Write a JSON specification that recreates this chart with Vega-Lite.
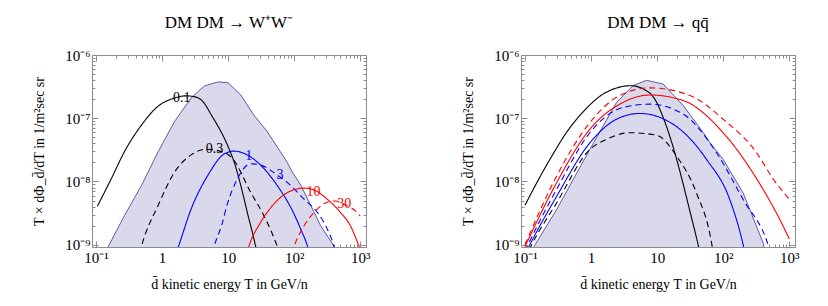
{
  "$schema": "https://vega.github.io/schema/vega-lite/v6.json",
  "padding": {"left": 32, "top": 13, "right": 5, "bottom": 5},
  "spacing": 90,
  "config": {
    "font": "Liberation Serif",
    "view": {"stroke": "#8c8c8c", "strokeWidth": 1},
    "axis": {"grid": false, "domain": false, "tickColor": "#8c8c8c", "labelFont": "Liberation Serif", "labelFontSize": 15, "labelColor": "#000000", "titleFont": "Liberation Serif", "titleFontSize": 14, "titleFontWeight": "normal", "titleColor": "#000000", "labelFlush": false, "labelOverlap": false},
    "title": {"font": "Liberation Serif", "fontSize": 17, "fontWeight": "normal", "color": "#000000"}
  },
  "datasets": {
    "bandL": [
      {"T": 0.135, "F": 7.24e-10}, {"T": 0.155, "F": 9.55e-10}, {"T": 0.269, "F": 2.88e-9}, {"T": 0.49, "F": 8.71e-9},
      {"T": 0.871, "F": 2.95e-8}, {"T": 1.549, "F": 8.91e-8}, {"T": 2.754, "F": 2.09e-7}, {"T": 4.365, "F": 3.24e-7},
      {"T": 7.08, "F": 3.76e-7}, {"T": 10, "F": 3.63e-7}, {"T": 15.5, "F": 2.34e-7}, {"T": 24.5, "F": 1.12e-7},
      {"T": 38.9, "F": 6.17e-8}, {"T": 61.7, "F": 2.95e-8}, {"T": 77.6, "F": 2.04e-8}, {"T": 93.3, "F": 1.41e-8},
      {"T": 126, "F": 8.71e-9}, {"T": 178, "F": 4.17e-9}, {"T": 251, "F": 2.0e-9}, {"T": 398, "F": 9.55e-10}, {"T": 457, "F": 7.24e-10}
    ],
    "bandR": [
      {"T": 0.12, "F": 7.24e-10}, {"T": 0.14, "F": 9.77e-10}, {"T": 0.299, "F": 3.55e-9}, {"T": 0.957, "F": 3.21e-8},
      {"T": 2.43, "F": 1.78e-7}, {"T": 4.34, "F": 3.29e-7}, {"T": 6.92, "F": 3.98e-7}, {"T": 12.3, "F": 3.48e-7},
      {"T": 24.8, "F": 1.585e-7}, {"T": 49.8, "F": 5.92e-8}, {"T": 63.1, "F": 4.09e-8}, {"T": 100, "F": 2.22e-8},
      {"T": 201, "F": 6.53e-9}, {"T": 404, "F": 1.05e-9}, {"T": 437, "F": 7.24e-10}
    ],
    "linesL": [
      {"s": "0.1", "T": 0.105, "F": 4.07e-9}, {"s": "0.1", "T": 0.17, "F": 1.1e-8}, {"s": "0.1", "T": 0.269, "F": 2.95e-8},
      {"s": "0.1", "T": 0.49, "F": 7.85e-8}, {"s": "0.1", "T": 0.871, "F": 1.55e-7}, {"s": "0.1", "T": 1.549, "F": 2.09e-7},
      {"s": "0.1", "T": 2.29, "F": 2.26e-7}, {"s": "0.1", "T": 3.09, "F": 2.19e-7}, {"s": "0.1", "T": 4.1, "F": 1.86e-7},
      {"s": "0.1", "T": 5.56, "F": 1.13e-7}, {"s": "0.1", "T": 10, "F": 3.55e-8}, {"s": "0.1", "T": 12.3, "F": 2.04e-8},
      {"s": "0.1", "T": 15.5, "F": 8.71e-9}, {"s": "0.1", "T": 19.5, "F": 3.24e-9}, {"s": "0.1", "T": 26, "F": 9.55e-10},
      {"s": "0.1", "T": 27.5, "F": 7.24e-10},
      {"s": "0.3", "T": 0.457, "F": 7.24e-10}, {"s": "0.3", "T": 0.49, "F": 9.55e-10}, {"s": "0.3", "T": 0.871, "F": 4.17e-9},
      {"s": "0.3", "T": 1.549, "F": 1.41e-8}, {"s": "0.3", "T": 2.754, "F": 2.63e-8}, {"s": "0.3", "T": 4.62, "F": 3.24e-8},
      {"s": "0.3", "T": 7.5, "F": 3.02e-8}, {"s": "0.3", "T": 11.7, "F": 2.3e-8}, {"s": "0.3", "T": 21.9, "F": 6.76e-9},
      {"s": "0.3", "T": 34.7, "F": 2.88e-9}, {"s": "0.3", "T": 55, "F": 9.55e-10}, {"s": "0.3", "T": 60.3, "F": 7.24e-10},
      {"s": "1", "T": 1.62, "F": 7.24e-10}, {"s": "1", "T": 1.78, "F": 9.55e-10}, {"s": "1", "T": 2.754, "F": 3.67e-9},
      {"s": "1", "T": 4.95, "F": 1.26e-8}, {"s": "1", "T": 8.83, "F": 2.75e-8}, {"s": "1", "T": 12.3, "F": 3.02e-8},
      {"s": "1", "T": 19.5, "F": 2.63e-8}, {"s": "1", "T": 30.9, "F": 1.82e-8}, {"s": "1", "T": 55, "F": 8.71e-9},
      {"s": "1", "T": 100, "F": 3.02e-9}, {"s": "1", "T": 126, "F": 1.74e-9}, {"s": "1", "T": 158, "F": 9.55e-10},
      {"s": "1", "T": 170, "F": 7.24e-10},
      {"s": "3", "T": 5.75, "F": 7.24e-10}, {"s": "3", "T": 6.17, "F": 9.55e-10}, {"s": "3", "T": 7.94, "F": 2.0e-9},
      {"s": "3", "T": 9.77, "F": 4.47e-9}, {"s": "3", "T": 13.8, "F": 1.1e-8}, {"s": "3", "T": 21.9, "F": 1.905e-8},
      {"s": "3", "T": 30.9, "F": 1.82e-8}, {"s": "3", "T": 55.6, "F": 1.26e-8}, {"s": "3", "T": 77.6, "F": 9.77e-9},
      {"s": "3", "T": 141, "F": 5.25e-9}, {"s": "3", "T": 224, "F": 3.24e-9}, {"s": "3", "T": 316, "F": 1.78e-9},
      {"s": "3", "T": 398, "F": 9.55e-10}, {"s": "3", "T": 427, "F": 7.24e-10},
      {"s": "10", "T": 19.1, "F": 7.24e-10}, {"s": "10", "T": 20.7, "F": 9.55e-10}, {"s": "10", "T": 30.9, "F": 2.24e-9},
      {"s": "10", "T": 49, "F": 4.37e-9}, {"s": "10", "T": 77.6, "F": 6.6e-9}, {"s": "10", "T": 141, "F": 7.85e-9},
      {"s": "10", "T": 195, "F": 7.4e-9}, {"s": "10", "T": 316, "F": 5.25e-9}, {"s": "10", "T": 501, "F": 3.24e-9},
      {"s": "10", "T": 708, "F": 2.0e-9}, {"s": "10", "T": 955, "F": 9.55e-10}, {"s": "10", "T": 1000, "F": 8.5e-10},
      {"s": "30", "T": 91, "F": 7.24e-10}, {"s": "30", "T": 100, "F": 9.55e-10}, {"s": "30", "T": 141, "F": 2.0e-9},
      {"s": "30", "T": 200, "F": 3.24e-9}, {"s": "30", "T": 316, "F": 4.68e-9}, {"s": "30", "T": 417, "F": 4.9e-9},
      {"s": "30", "T": 562, "F": 4.37e-9}, {"s": "30", "T": 891, "F": 3.24e-9}, {"s": "30", "T": 1000, "F": 2.82e-9}
    ],
    "labelsL": [
      {"s": "0.1", "label": "0.1", "T": 1.99, "F": 2.09e-7},
      {"s": "0.3", "label": "0.3", "T": 6.24, "F": 3.25e-8},
      {"s": "1", "label": "1", "T": 20.5, "F": 2.54e-8},
      {"s": "3", "label": "3", "T": 60.8, "F": 1.26e-8},
      {"s": "10", "label": "10", "T": 195, "F": 6.8e-9},
      {"s": "30", "label": "30", "T": 571, "F": 4.4e-9}
    ],
    "linesR": [
      {"s": "0.1", "T": 0.1, "F": 4.21e-9}, {"s": "0.1", "T": 0.156, "F": 1.02e-8}, {"s": "0.1", "T": 0.248, "F": 2.4e-8},
      {"s": "0.1", "T": 0.444, "F": 6.37e-8}, {"s": "0.1", "T": 0.794, "F": 1.33e-7}, {"s": "0.1", "T": 1.42, "F": 2.3e-7},
      {"s": "0.1", "T": 2.54, "F": 3.05e-7}, {"s": "0.1", "T": 3.98, "F": 3.27e-7}, {"s": "0.1", "T": 6.44, "F": 2.84e-7},
      {"s": "0.1", "T": 9.12, "F": 2.04e-7}, {"s": "0.1", "T": 13.1, "F": 8.71e-8}, {"s": "0.1", "T": 17.5, "F": 3.47e-8},
      {"s": "0.1", "T": 23.4, "F": 1.148e-8}, {"s": "0.1", "T": 31.3, "F": 3.39e-9}, {"s": "0.1", "T": 41.7, "F": 1.0e-9},
      {"s": "0.1", "T": 44.7, "F": 7.24e-10},
      {"s": "0.3", "T": 0.1, "F": 6.0e-10}, {"s": "0.3", "T": 0.125, "F": 9.77e-10}, {"s": "0.3", "T": 0.299, "F": 4.52e-9},
      {"s": "0.3", "T": 0.957, "F": 3.2e-8}, {"s": "0.3", "T": 1.71, "F": 4.62e-8}, {"s": "0.3", "T": 3.86, "F": 5.9e-8},
      {"s": "0.3", "T": 9.8, "F": 5.4e-8}, {"s": "0.3", "T": 19.7, "F": 2.51e-8}, {"s": "0.3", "T": 39.5, "F": 6.53e-9},
      {"s": "0.3", "T": 66.8, "F": 1.05e-9}, {"s": "0.3", "T": 70.8, "F": 7.24e-10},
      {"s": "1", "T": 0.1, "F": 7.08e-10}, {"s": "1", "T": 0.117, "F": 9.77e-10}, {"s": "1", "T": 0.299, "F": 5.75e-9},
      {"s": "1", "T": 0.957, "F": 4.07e-8}, {"s": "1", "T": 2.43, "F": 9.64e-8}, {"s": "1", "T": 5.47, "F": 1.19e-7},
      {"s": "1", "T": 17.5, "F": 8.02e-8}, {"s": "1", "T": 56.1, "F": 2.22e-8}, {"s": "1", "T": 126, "F": 5.13e-9},
      {"s": "1", "T": 201, "F": 9.77e-10}, {"s": "1", "T": 214, "F": 7.24e-10},
      {"s": "3", "T": 0.1, "F": 7.94e-10}, {"s": "3", "T": 0.111, "F": 1.0e-9}, {"s": "3", "T": 0.299, "F": 7.41e-9},
      {"s": "3", "T": 0.957, "F": 5.89e-8}, {"s": "3", "T": 3.05, "F": 1.48e-7}, {"s": "3", "T": 7.76, "F": 1.67e-7},
      {"s": "3", "T": 24.8, "F": 1.16e-7}, {"s": "3", "T": 79.4, "F": 2.84e-8}, {"s": "3", "T": 201, "F": 5.13e-9},
      {"s": "3", "T": 481, "F": 9.77e-10}, {"s": "3", "T": 525, "F": 7.24e-10},
      {"s": "10", "T": 0.1, "F": 9.3e-10}, {"s": "10", "T": 0.299, "F": 9.44e-9}, {"s": "10", "T": 0.957, "F": 6.68e-8},
      {"s": "10", "T": 3.05, "F": 1.78e-7}, {"s": "10", "T": 7.76, "F": 2.33e-7}, {"s": "10", "T": 24.8, "F": 1.905e-7},
      {"s": "10", "T": 100, "F": 5.89e-8}, {"s": "10", "T": 321, "F": 1.1e-8}, {"s": "10", "T": 966, "F": 1.33e-9},
      {"s": "10", "T": 1000, "F": 1.23e-9},
      {"s": "30", "T": 0.1, "F": 1.0e-9}, {"s": "30", "T": 0.299, "F": 1.2e-8}, {"s": "30", "T": 0.957, "F": 8.51e-8},
      {"s": "30", "T": 2.43, "F": 2.14e-7}, {"s": "30", "T": 7.76, "F": 3.02e-7}, {"s": "30", "T": 31.3, "F": 2.29e-7},
      {"s": "30", "T": 100, "F": 9.64e-8}, {"s": "30", "T": 321, "F": 2.84e-8}, {"s": "30", "T": 562, "F": 1.12e-8},
      {"s": "30", "T": 1000, "F": 5.25e-9}
    ]
  },
  "hconcat": [
    {
      "width": 274,
      "height": 192,
      "title": {"text": "DM DM → W⁺W⁻", "offset": 16},
      "layer": [
        {
          "data": {"name": "bandL"},
          "mark": {"type": "area", "fill": "#d9d9eb", "stroke": "#5b5ba6", "strokeWidth": 1, "clip": true},
          "encoding": {
            "x": {"field": "T", "type": "quantitative", "scale": {"type": "log", "domain": [0.087, 1220], "nice": false},
              "axis": {"orient": "bottom", "title": "d̄ kinetic energy T in GeV/n", "titlePadding": 9, "labelPadding": 9,
                "values": [0.1,0.2,0.3,0.4,0.5,0.6,0.7,0.8,0.9,1,2,3,4,5,6,7,8,9,10,20,30,40,50,60,70,80,90,100,200,300,400,500,600,700,800,900,1000],
                "labelExpr": "round(log(datum.value)/LN10*1000) == -1000 ? '10⁻¹' : round(log(datum.value)/LN10*1000) == 0 ? '1' : round(log(datum.value)/LN10*1000) == 1000 ? '10' : round(log(datum.value)/LN10*1000) == 2000 ? '10²' : round(log(datum.value)/LN10*1000) == 3000 ? '10³' : ''",
                "tickSize": {"condition": {"test": "abs(log(datum.value)/LN10 - round(log(datum.value)/LN10)) < 0.001", "value": -6}, "value": -3}}},
            "y": {"field": "F", "type": "quantitative", "scale": {"type": "log", "domain": [9.2e-10, 1e-6], "nice": false},
              "axis": {"orient": "left", "title": "T × dΦ_d̄/dT in 1/m²sec sr", "titlePadding": 18, "labelPadding": 8,
                "values": [1e-9,2e-9,3e-9,4e-9,5e-9,6e-9,7e-9,8e-9,9e-9,1e-8,2e-8,3e-8,4e-8,5e-8,6e-8,7e-8,8e-8,9e-8,1e-7,2e-7,3e-7,4e-7,5e-7,6e-7,7e-7,8e-7,9e-7,1e-6],
                "labelExpr": "round(log(datum.value)/LN10*1000) == -9000 ? '10⁻⁹' : round(log(datum.value)/LN10*1000) == -8000 ? '10⁻⁸' : round(log(datum.value)/LN10*1000) == -7000 ? '10⁻⁷' : round(log(datum.value)/LN10*1000) == -6000 ? '10⁻⁶' : ''",
                "tickSize": {"condition": {"test": "abs(log(datum.value)/LN10 - round(log(datum.value)/LN10)) < 0.001", "value": -6}, "value": -3}}},
            "y2": {"datum": 1e-10}
          }
        },
        {
          "data": {"name": "linesL"},
          "mark": {"type": "line", "strokeWidth": 1.1, "clip": true, "interpolate": "monotone"},
          "encoding": {
            "x": {"field": "T", "type": "quantitative",
              "axis": {"orient": "top", "title": null, "labels": false,
                "values": [0.1,0.2,0.3,0.4,0.5,0.6,0.7,0.8,0.9,1,2,3,4,5,6,7,8,9,10,20,30,40,50,60,70,80,90,100,200,300,400,500,600,700,800,900,1000],
                "tickSize": {"condition": {"test": "abs(log(datum.value)/LN10 - round(log(datum.value)/LN10)) < 0.001", "value": -6}, "value": -3}}},
            "y": {"field": "F", "type": "quantitative",
              "axis": {"orient": "right", "title": null, "labels": false,
                "values": [1e-9,2e-9,3e-9,4e-9,5e-9,6e-9,7e-9,8e-9,9e-9,1e-8,2e-8,3e-8,4e-8,5e-8,6e-8,7e-8,8e-8,9e-8,1e-7,2e-7,3e-7,4e-7,5e-7,6e-7,7e-7,8e-7,9e-7,1e-6],
                "tickSize": {"condition": {"test": "abs(log(datum.value)/LN10 - round(log(datum.value)/LN10)) < 0.001", "value": -6}, "value": -3}}},
            "color": {"field": "s", "type": "nominal", "legend": null,
              "scale": {"domain": ["0.1", "0.3", "1", "3", "10", "30"], "range": ["#000000", "#000000", "#0000ff", "#0000ff", "#ff0000", "#ff0000"]}},
            "strokeDash": {"field": "s", "type": "nominal", "legend": null,
              "scale": {"domain": ["0.1", "0.3", "1", "3", "10", "30"], "range": [[1, 0], [6, 4], [1, 0], [6, 4], [1, 0], [6, 4]]}}
          }
        },
        {
          "data": {"name": "labelsL"},
          "mark": {"type": "text", "fontSize": 14, "font": "Liberation Serif"},
          "encoding": {
            "x": {"field": "T", "type": "quantitative", "axis": null},
            "y": {"field": "F", "type": "quantitative", "axis": null},
            "text": {"field": "label"},
            "color": {"field": "s", "type": "nominal", "legend": null}
          }
        }
      ],
      "resolve": {"axis": {"x": "independent", "y": "independent"}}
    },
    {
      "width": 274,
      "height": 192,
      "title": {"text": "DM DM → qq̄", "offset": 16},
      "layer": [
        {
          "data": {"name": "bandR"},
          "mark": {"type": "area", "fill": "#d9d9eb", "stroke": "#5b5ba6", "strokeWidth": 1, "clip": true},
          "encoding": {
            "x": {"field": "T", "type": "quantitative", "scale": {"type": "log", "domain": [0.087, 1220], "nice": false},
              "axis": {"orient": "bottom", "title": "d̄ kinetic energy T in GeV/n", "titlePadding": 9, "labelPadding": 9,
                "values": [0.1,0.2,0.3,0.4,0.5,0.6,0.7,0.8,0.9,1,2,3,4,5,6,7,8,9,10,20,30,40,50,60,70,80,90,100,200,300,400,500,600,700,800,900,1000],
                "labelExpr": "round(log(datum.value)/LN10*1000) == -1000 ? '10⁻¹' : round(log(datum.value)/LN10*1000) == 0 ? '1' : round(log(datum.value)/LN10*1000) == 1000 ? '10' : round(log(datum.value)/LN10*1000) == 2000 ? '10²' : round(log(datum.value)/LN10*1000) == 3000 ? '10³' : ''",
                "tickSize": {"condition": {"test": "abs(log(datum.value)/LN10 - round(log(datum.value)/LN10)) < 0.001", "value": -6}, "value": -3}}},
            "y": {"field": "F", "type": "quantitative", "scale": {"type": "log", "domain": [9.2e-10, 1e-6], "nice": false},
              "axis": {"orient": "left", "title": "T × dΦ_d̄/dT in 1/m²sec sr", "titlePadding": 18, "labelPadding": 8,
                "values": [1e-9,2e-9,3e-9,4e-9,5e-9,6e-9,7e-9,8e-9,9e-9,1e-8,2e-8,3e-8,4e-8,5e-8,6e-8,7e-8,8e-8,9e-8,1e-7,2e-7,3e-7,4e-7,5e-7,6e-7,7e-7,8e-7,9e-7,1e-6],
                "labelExpr": "round(log(datum.value)/LN10*1000) == -9000 ? '10⁻⁹' : round(log(datum.value)/LN10*1000) == -8000 ? '10⁻⁸' : round(log(datum.value)/LN10*1000) == -7000 ? '10⁻⁷' : round(log(datum.value)/LN10*1000) == -6000 ? '10⁻⁶' : ''",
                "tickSize": {"condition": {"test": "abs(log(datum.value)/LN10 - round(log(datum.value)/LN10)) < 0.001", "value": -6}, "value": -3}}},
            "y2": {"datum": 1e-10}
          }
        },
        {
          "data": {"name": "linesR"},
          "mark": {"type": "line", "strokeWidth": 1.1, "clip": true, "interpolate": "monotone"},
          "encoding": {
            "x": {"field": "T", "type": "quantitative",
              "axis": {"orient": "top", "title": null, "labels": false,
                "values": [0.1,0.2,0.3,0.4,0.5,0.6,0.7,0.8,0.9,1,2,3,4,5,6,7,8,9,10,20,30,40,50,60,70,80,90,100,200,300,400,500,600,700,800,900,1000],
                "tickSize": {"condition": {"test": "abs(log(datum.value)/LN10 - round(log(datum.value)/LN10)) < 0.001", "value": -6}, "value": -3}}},
            "y": {"field": "F", "type": "quantitative",
              "axis": {"orient": "right", "title": null, "labels": false,
                "values": [1e-9,2e-9,3e-9,4e-9,5e-9,6e-9,7e-9,8e-9,9e-9,1e-8,2e-8,3e-8,4e-8,5e-8,6e-8,7e-8,8e-8,9e-8,1e-7,2e-7,3e-7,4e-7,5e-7,6e-7,7e-7,8e-7,9e-7,1e-6],
                "tickSize": {"condition": {"test": "abs(log(datum.value)/LN10 - round(log(datum.value)/LN10)) < 0.001", "value": -6}, "value": -3}}},
            "color": {"field": "s", "type": "nominal", "legend": null,
              "scale": {"domain": ["0.1", "0.3", "1", "3", "10", "30"], "range": ["#000000", "#000000", "#0000ff", "#0000ff", "#ff0000", "#ff0000"]}},
            "strokeDash": {"field": "s", "type": "nominal", "legend": null,
              "scale": {"domain": ["0.1", "0.3", "1", "3", "10", "30"], "range": [[1, 0], [6, 4], [1, 0], [6, 4], [1, 0], [6, 4]]}}
          }
        }
      ],
      "resolve": {"axis": {"x": "independent", "y": "independent"}}
    }
  ]
}
